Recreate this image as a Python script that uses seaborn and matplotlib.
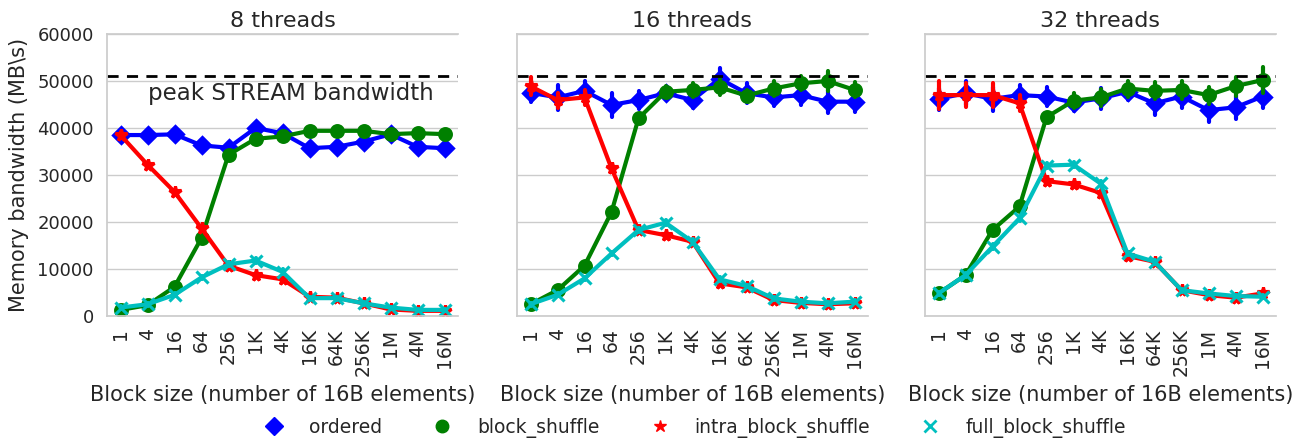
import numpy as np
import pandas as pd
import matplotlib
matplotlib.use("Agg")
import matplotlib.pyplot as plt
from matplotlib.lines import Line2D
import seaborn as sns

block_sizes = ['1', '4', '16', '64', '256', '1K', '4K', '16K', '64K', '256K', '1M', '4M', '16M']
series_names = ['ordered', 'block_shuffle', 'intra_block_shuffle', 'full_block_shuffle']
thread_counts = [8, 16, 32]
peak_stream = 51000

# 8 threads
ordered_8 = [38500, 38500, 38650, 36300, 35800, 40000, 38900, 35700, 36000, 37100, 38650, 36000, 35700]
block_8 = [1300, 2300, 6200, 16600, 34300, 37700, 38200, 39400, 39400, 39400, 38700, 38900, 38700]
intra_8 = [38500, 32200, 26400, 18650, 10700, 8700, 7800, 4100, 3900, 2700, 1400, 1100, 1100]
full_8 = [1800, 2500, 4500, 8200, 11000, 11800, 9400, 3800, 3800, 2700, 1800, 1300, 1300]

# 16 threads
ordered_16 = [47500, 46500, 47900, 44900, 45950, 47400, 45950, 50500, 47400, 46500, 47000, 45600, 45600]
block_16 = [2500, 5500, 10700, 22100, 42050, 47700, 48100, 48650, 46900, 48400, 49500, 50000, 48100]
intra_16 = [48900, 45950, 46500, 31400, 18300, 17200, 15800, 6950, 6100, 3400, 2800, 2500, 2700]
full_16 = [2500, 4500, 8000, 13300, 18300, 19850, 15800, 7800, 6400, 3750, 3050, 2700, 3050]

# 32 threads
ordered_32 = [46200, 47400, 46200, 47000, 46700, 45400, 46300, 47700, 45250, 46700, 43800, 44400, 46700]
block_32 = [4800, 8700, 18300, 23300, 42300, 45800, 46500, 48400, 47900, 48100, 47000, 48900, 50200]
intra_32 = [47000, 47000, 47000, 45250, 28700, 28000, 26200, 12750, 11550, 5500, 4450, 3900, 4800]
full_32 = [4800, 8700, 14750, 20800, 32000, 32200, 28200, 13300, 11550, 5500, 4800, 4250, 4100]

# error half-widths
ordered_err_8 = [600, 600, 600, 700, 700, 700, 600, 700, 600, 600, 600, 700, 600]
block_err_8 = [300, 300, 400, 500, 700, 600, 500, 500, 500, 500, 500, 500, 500]
intra_err_8 = [600, 500, 500, 500, 400, 400, 400, 300, 300, 300, 200, 200, 200]
full_err_8 = [300, 300, 300, 400, 400, 600, 500, 300, 300, 300, 200, 200, 200]

ordered_err_16 = [1900, 2600, 2100, 2600, 1900, 1300, 1700, 2300, 2100, 1900, 2100, 2500, 2100]
block_err_16 = [300, 300, 400, 500, 800, 1200, 1400, 1700, 1200, 1500, 1500, 2100, 1600]
intra_err_16 = [1900, 1600, 1600, 800, 500, 500, 500, 400, 400, 300, 300, 300, 300]
full_err_16 = [300, 300, 300, 400, 500, 500, 500, 400, 300, 300, 300, 300, 300]

ordered_err_32 = [2300, 2500, 2500, 2100, 2100, 1700, 2300, 1700, 2500, 2500, 2500, 2500, 2500]
block_err_32 = [400, 400, 600, 600, 800, 1600, 1800, 1700, 1800, 2000, 1800, 2000, 2700]
intra_err_32 = [3000, 2500, 2500, 1700, 600, 500, 500, 400, 400, 300, 300, 300, 500]
full_err_32 = [400, 400, 500, 500, 600, 600, 600, 400, 400, 300, 300, 300, 300]

panels = {
    8: ([ordered_8, block_8, intra_8, full_8],
        [ordered_err_8, block_err_8, intra_err_8, full_err_8]),
    16: ([ordered_16, block_16, intra_16, full_16],
         [ordered_err_16, block_err_16, intra_err_16, full_err_16]),
    32: ([ordered_32, block_32, intra_32, full_32],
         [ordered_err_32, block_err_32, intra_err_32, full_err_32]),
}

colors = [(0, 0, 1), (0, 0.5, 0), (1, 0, 0), (0, 0.75, 0.75)]
markers = ['D', 'o', '*', 'x']

rows = []
for t in thread_counts:
    vals, errs = panels[t]
    for name, v, e in zip(series_names, vals, errs):
        for b, m, d in zip(block_sizes, v, e):
            rows.append(dict(threads=t, kind=name, block=b, bw=m - d))
            rows.append(dict(threads=t, kind=name, block=b, bw=m + d))
df = pd.DataFrame(rows)

sns.set_theme(style="whitegrid")
plt.rcParams.update({
    'font.family': ['DejaVu Sans'],
    'axes.edgecolor': '#cccccc',
    'grid.color': '#cccccc',
    'text.color': '0.15',
    'axes.labelcolor': '0.15',
    'xtick.color': '0.15',
    'ytick.color': '0.15',
})

fig = plt.figure(figsize=(13.03, 4.41), dpi=100)
W, H = 1303, 441
lefts = [107, 517, 925]
axw = 351
bottom = 1 - 316 / H
top = 1 - 34 / H
axes = []
for i, l in enumerate(lefts):
    ax = fig.add_axes([l / W, bottom, axw / W, top - bottom],
                      sharey=axes[0] if axes else None)
    axes.append(ax)

for ax, t in zip(axes, thread_counts):
    sub = df[df.threads == t]
    sns.pointplot(data=sub, x='block', y='bw', hue='kind', order=block_sizes,
                  hue_order=series_names, palette=colors, markers=markers,
                  linestyles='-', estimator='mean', errorbar=('pi', 100),
                  dodge=False, ax=ax, markersize=8.5, linewidth=3,
                  err_kws={'linewidth': 3})
    ax.axhline(peak_stream, color='black', linestyle='--', linewidth=2, dashes=(4, 3))
    ax.set_ylim(0, 60000)
    ax.set_xlim(-0.5, len(block_sizes) - 0.5)
    ax.set_title(f'{t} threads', fontsize=16, pad=5)
    ax.set_xlabel('Block size (number of 16B elements)', fontsize=15, labelpad=6)
    ax.set_ylabel('')
    ax.tick_params(axis='x', labelrotation=90, labelsize=13.5, pad=3)
    ax.tick_params(axis='y', labelsize=13)
    ax.grid(axis='x', visible=False)
    ax.spines['right'].set_visible(False)
    leg = ax.get_legend()
    if leg is not None:
        leg.remove()

axes[0].set_yticks([0, 10000, 20000, 30000, 40000, 50000, 60000])
axes[0].set_ylabel(r'Memory bandwidth (MB\s)', fontsize=15, labelpad=6)
for ax in axes[1:]:
    ax.tick_params(axis='y', labelleft=False)

axes[0].text(1, 47400, 'peak STREAM bandwidth', fontsize=16.5, va='center', ha='left')

handles = [Line2D([], [], linestyle='none', marker=m, color=c, markersize=9,
                  markeredgewidth=2 if m == 'x' else 1)
           for m, c in zip(markers, colors)]
fig.legend(handles, series_names, loc='center', ncol=4, frameon=False,
           bbox_to_anchor=(0.53, 0.03), fontsize=13.5, columnspacing=2.2,
           handletextpad=0.87)

fig.savefig('out.png', dpi=100)
